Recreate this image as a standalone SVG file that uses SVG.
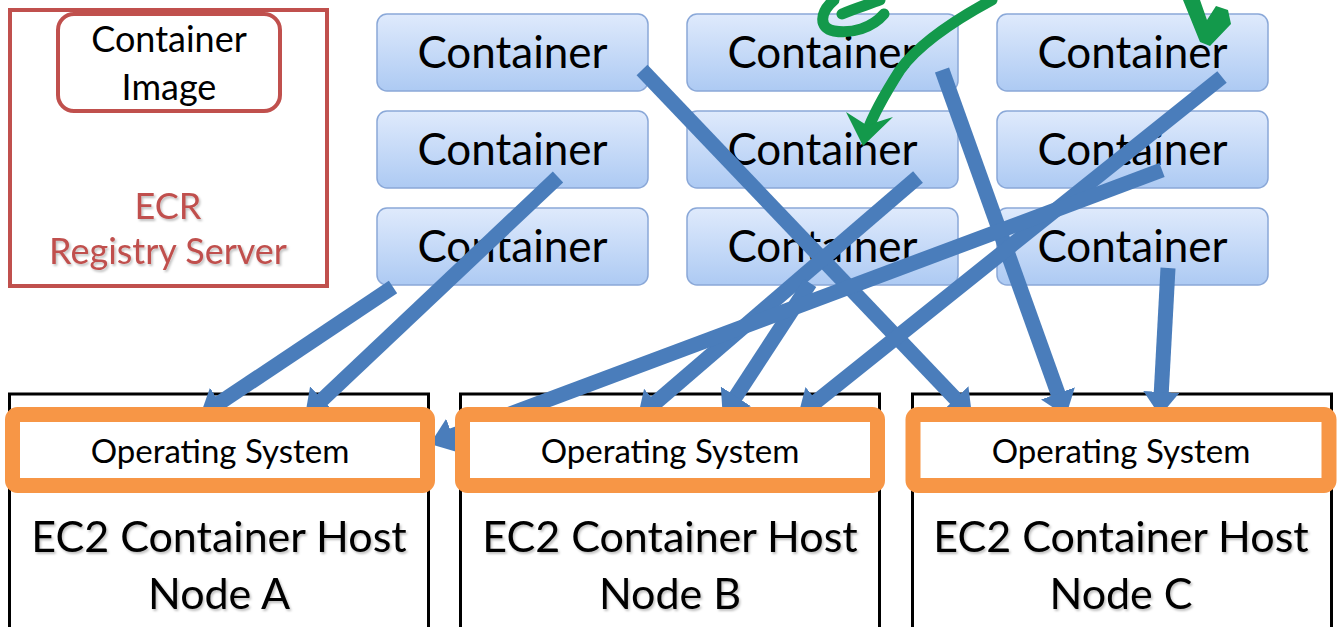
<svg xmlns="http://www.w3.org/2000/svg" width="1337" height="627" viewBox="0 0 1337 627">
<style>
text{font-family:Lato,"Open Sans","Liberation Sans",sans-serif;text-anchor:middle}
.cbox{fill:url(#cg);stroke:#8aa8d8;stroke-width:1.5}
.ct{font-size:44px;fill:#000}
.ecr{fill:none;stroke:#c0504d;stroke-width:4}
.red{fill:#c0504d;font-size:36px;filter:url(#sh)}
.host{fill:#fff;stroke:#000;stroke-width:3}
.os{fill:#fff;stroke:#f79646;stroke-width:15}
.ost{font-size:33px;fill:#000}
.ht{font-size:43px;fill:#000;filter:url(#sh)}
.arr{stroke:#4a7dbb;stroke-width:15;fill:none;marker-end:url(#ah)}
.gr{stroke:#13994b;stroke-width:11;fill:none;stroke-linecap:round;stroke-linejoin:round}
</style>
<defs>
<linearGradient id="cg" x1="0" y1="0" x2="0" y2="1">
<stop offset="0" stop-color="#dfeafc"/>
<stop offset="1" stop-color="#adcaf3"/>
</linearGradient>
<filter id="sh" x="-10%" y="-20%" width="120%" height="150%">
<feDropShadow dx="1.5" dy="2" stdDeviation="1.2" flood-color="#000" flood-opacity="0.25"/>
</filter>
<marker id="ah" markerUnits="userSpaceOnUse" viewBox="0 -18 24 36" refX="2" refY="0" markerWidth="24" markerHeight="36" orient="auto">
<path d="M0,-18 L24,0 L0,18 Z" fill="#4a7dbb"/>
</marker>
</defs>
<rect width="1337" height="627" fill="#fff"/>
<g id="ecr">
<rect class="ecr" x="10" y="10" width="317" height="276"/>
<text class="red" x="168" y="219">ECR</text>
<text class="red" x="168" y="264">Registry Server</text>
</g>
<g id="image">
<rect class="ecr" x="58" y="14" width="222" height="97" rx="16"/>
<text x="169" y="52" font-size="36">Container</text>
<text x="169" y="100" font-size="36">Image</text>
</g>
<g id="c11"><rect class="cbox" x="377" y="14" width="271" height="77" rx="10"/><text class="ct" x="512.5" y="68">Container</text></g>
<g id="c21"><rect class="cbox" x="377" y="111" width="271" height="77" rx="10"/><text class="ct" x="512.5" y="165">Container</text></g>
<g id="c31"><rect class="cbox" x="377" y="208" width="271" height="77" rx="10"/><text class="ct" x="512.5" y="262">Container</text></g>
<g id="c12"><rect class="cbox" x="687" y="14" width="271" height="77" rx="10"/><text class="ct" x="822.5" y="68">Container</text></g>
<g id="c22"><rect class="cbox" x="687" y="111" width="271" height="77" rx="10"/><text class="ct" x="822.5" y="165">Container</text></g>
<g id="c32"><rect class="cbox" x="687" y="208" width="271" height="77" rx="10"/><text class="ct" x="822.5" y="262">Container</text></g>
<g id="c13"><rect class="cbox" x="997" y="14" width="271" height="77" rx="10"/><text class="ct" x="1132.5" y="68">Container</text></g>
<g id="c23"><rect class="cbox" x="997" y="111" width="271" height="77" rx="10"/><text class="ct" x="1132.5" y="165">Container</text></g>
<g id="c33"><rect class="cbox" x="997" y="208" width="271" height="77" rx="10"/><text class="ct" x="1132.5" y="262">Container</text></g>
<g id="hostA-box"><rect class="host" x="9.5" y="394" width="419" height="250"/></g>
<g id="hostB-box"><rect class="host" x="460.5" y="394" width="419" height="250"/></g>
<g id="hostC-box"><rect class="host" x="912.5" y="394" width="419" height="250"/></g>
<g id="connectors">
<line class="arr" x1="393" y1="287" x2="218.3" y2="403.8"/>
<line class="arr" x1="558" y1="177" x2="321" y2="400.9"/>
<line class="arr" x1="642" y1="70" x2="956.8" y2="400.1"/>
<line class="arr" x1="942" y1="70" x2="1058.6" y2="395.3"/>
<line class="arr" x1="918" y1="177" x2="654.3" y2="403.7"/>
<line class="arr" x1="810" y1="283" x2="734.8" y2="398"/>
<line class="arr" x1="1222" y1="77" x2="815.2" y2="402.3"/>
<line class="arr" x1="1162" y1="170" x2="450.6" y2="436.3"/>
<line class="arr" x1="1168" y1="268" x2="1161.2" y2="394"/>
</g>
<g id="hostA">
<rect class="os" x="12.5" y="414.5" width="415" height="71" rx="5"/>
<text class="ost" x="220" y="463">Operating System</text>
<text class="ht" x="219" y="552">EC2 Container Host</text>
<text class="ht" x="219" y="609">Node A</text>
</g>
<g id="hostB">
<rect class="os" x="462.5" y="414.5" width="415" height="71" rx="5"/>
<text class="ost" x="670" y="463">Operating System</text>
<text class="ht" x="670" y="552">EC2 Container Host</text>
<text class="ht" x="670" y="609">Node B</text>
</g>
<g id="hostC">
<rect class="os" x="913" y="414.5" width="416" height="71" rx="5"/>
<text class="ost" x="1121" y="463">Operating System</text>
<text class="ht" x="1121" y="552">EC2 Container Host</text>
<text class="ht" x="1121" y="609">Node C</text>
</g>
<g id="annotations">
<path class="gr" d="M834,0 C820,12 818,28 834,31 C852,34 872,28 884,14"/>
<path class="gr" d="M842,14 C856,8 870,4 880,0"/>
<path class="gr" d="M992,0 C955,20 918,45 900,70 C886,92 874,112 867,132"/>
<path d="M846,112 L863,146 L893,117 L877,122 L868,126 Z" fill="#13994b"/>
<path d="M1183,0 L1200,0 L1207,20 L1216,6 L1228,10 L1231,24 L1210,46 L1200,42 Z" fill="#13994b"/>
</g>
</svg>
